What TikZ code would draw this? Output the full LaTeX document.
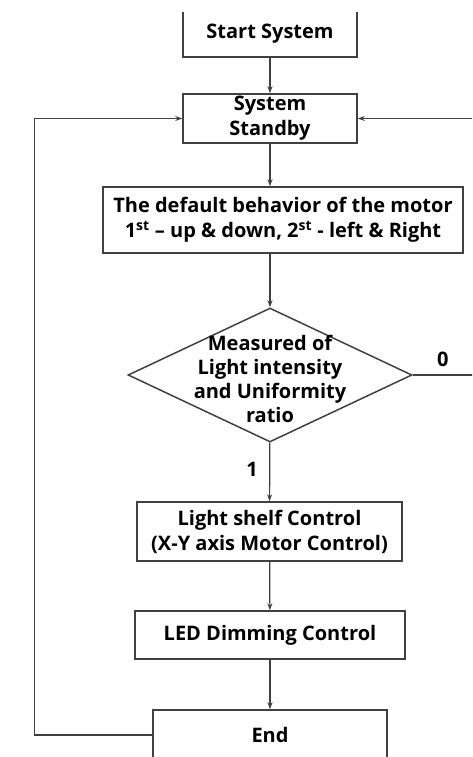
\documentclass[tikz,border=0pt]{standalone}
\usepackage{fontspec}
\setmainfont{Open Sans}
\usetikzlibrary{shapes.geometric,arrows.meta}

\begin{document}
\begin{tikzpicture}[x=1pt,y=-1pt,
  txt/.style={font=\fontsize{20}{25}\selectfont\bfseries,align=center},
  box/.style={txt,draw=black!75,line width=1.5pt,inner sep=0pt},
  link/.style={draw=black!75,line width=1.2pt,-{Stealth[length=7pt,width=5pt]}}]
\useasboundingbox (0,0) rectangle (472,757);
\clip (0,12.5) rectangle (472,757);

% main column
\node[box,minimum width=174pt,minimum height=46pt] (start) at (270,34) {Start System};
\node[box,minimum width=174pt,minimum height=49pt] (standby) at (270,118.5) {System\\Standby};
\node[box,minimum width=360pt,minimum height=66pt] (default) at (283,220) {The default behavior of the motor\\1\textsuperscript{st} -- up \& down, 2\textsuperscript{st} - left \& Right};
\node[draw=black!75,line width=1.5pt,diamond,minimum width=284pt,minimum height=134pt,inner sep=0pt] (measure) at (270,375) {};
\node[txt,font=\fontsize{20}{24}\selectfont\bfseries] (measuretxt) at (270,379) {Measured of\\Light intensity\\and Uniformity\\ratio};
\node[box,minimum width=265pt,minimum height=59pt] (shelf) at (269.5,531.5) {Light shelf Control\\(X-Y axis Motor Control)};
\node[box,minimum width=270pt,minimum height=48pt] (led) at (270,635) {LED Dimming Control};
\node[box,minimum width=234pt,minimum height=50pt] (end) at (270,735) {End};

% arrows
\draw[link] (start) -- (standby);
\draw[link] (standby) -- (standby.south |- default.north);
\draw[link] (default.south -| measure.north) -- (measure);
\draw[link] (measure) -- node[txt,left=8pt,pos=0.45] (one) {1} (shelf);
\draw[link] (shelf) -- (led);
\draw[link] (led) -- (end);

% loops back to standby
\draw[link] (end.west) -- ++(-118,0) |- (standby.west);
\draw[link] (measure.east) -- node[txt,above=4pt,pos=0.47] (zero) {0} ++(64,0) |- (standby.east);
\end{tikzpicture}
\end{document}
